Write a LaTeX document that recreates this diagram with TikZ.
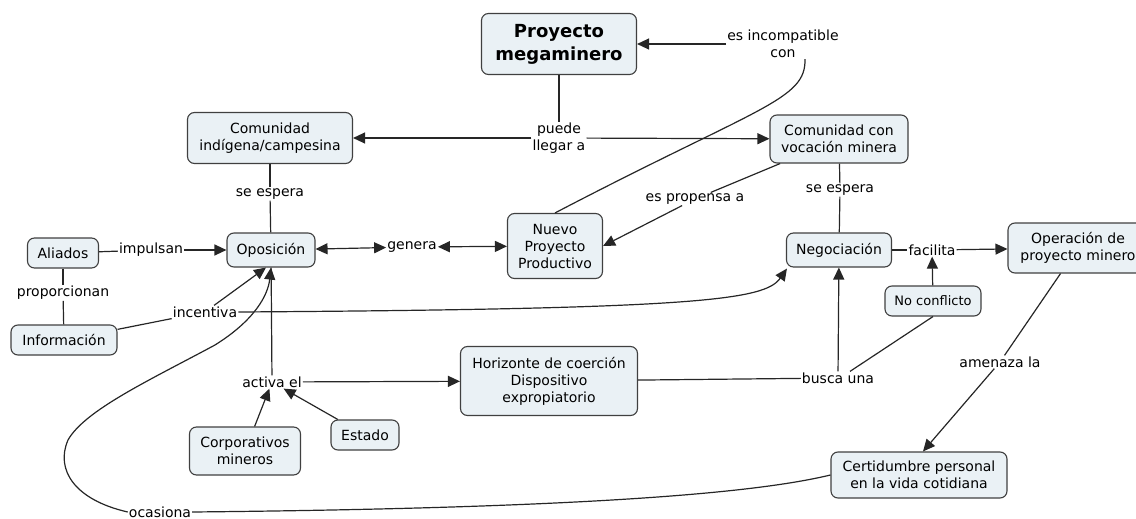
\documentclass[tikz,border=0pt]{standalone}
\usepackage{fontspec}
\setmainfont{DejaVu Sans}
\usetikzlibrary{arrows.meta}

\definecolor{conceptfill}{RGB}{234,241,245}

\tikzstyle{concept} = [draw, rectangle, rounded corners=7pt, line width=1.1pt,
                       align=center, inner sep=2pt,
                       font=\fontsize{14}{17}\selectfont]
\tikzstyle{phrase} = [align=center, inner sep=1pt,
                      font=\fontsize{14}{17}\selectfont]
\tikzstyle{link} = [line width=1.2pt]
\tikzstyle{arrow} = [link, -{Triangle[length=12pt,width=11pt]}]
\tikzstyle{biarrow} = [link, {Triangle[length=12pt,width=11pt]}-{Triangle[length=12pt,width=11pt]}]

\begin{document}
\begin{tikzpicture}[x=1pt, y=-1pt]

\def\colB{black!75};
\def\fillB{conceptfill};
\def\colL{black!85};

\useasboundingbox (0,0) rectangle (1136,519);

\node at (559,44) [concept,draw=\colB,fill=\fillB,
                   font=\bfseries\fontsize{18}{23}\selectfont,
                   minimum width=155pt,minimum height=61pt]
                   (PM) {Proyecto\\megaminero};

\node at (783,44) [phrase] (incomp) {es incompatible\\con};

\node at (559,138) [phrase] (puede) {puede\\llegar a};

\node at (270,138) [concept,draw=\colB,fill=\fillB,
                    minimum width=165pt,minimum height=51pt]
                    (CI) {Comunidad\\indígena/campesina};

\node at (839,139) [concept,draw=\colB,fill=\fillB,
                    minimum width=138pt,minimum height=48pt]
                    (CV) {Comunidad con\\vocación minera};

\node at (270,194) [phrase] (seL) {se espera};
\node at (840,190) [phrase] (seR) {se espera};

\node at (271,250) [concept,draw=\colB,fill=\fillB,
                    minimum width=88pt,minimum height=34pt]
                    (Opos) {Oposición};

\node at (839,250) [concept,draw=\colB,fill=\fillB,
                    minimum width=105pt,minimum height=34pt]
                    (Neg) {Negociación};

\node at (63,253) [concept,draw=\colB,fill=\fillB,
                   minimum width=71pt,minimum height=30pt]
                   (Ali) {Aliados};

\node at (151,250) [phrase] (imp) {impulsan};
\node at (63,293) [phrase] (prop) {proporcionan};

\node at (64,340) [concept,draw=\colB,fill=\fillB,
                   minimum width=106pt,minimum height=30pt]
                   (Info) {Información};

\node at (205,312) [phrase] (incent) {incentiva};
\node at (412,247) [phrase] (gen) {genera};

\node at (555,246) [concept,draw=\colB,fill=\fillB,
                    minimum width=95pt,minimum height=65pt]
                    (NPP) {Nuevo\\Proyecto\\Productivo};

\node at (695,199) [phrase] (propensa) {es propensa a};
\node at (932,250) [phrase] (fac) {facilita};

\node at (1078,248) [concept,draw=\colB,fill=\fillB,
                     minimum width=140pt,minimum height=50pt]
                     (Op) {Operación de\\proyecto minero};

\node at (933,301) [concept,draw=\colB,fill=\fillB,
                    font=\fontsize{13}{16}\selectfont,
                    minimum width=96pt,minimum height=30pt]
                    (NoC) {No conflicto};

\node at (838,378) [phrase] (busca) {busca una};

\node at (549,381) [concept,draw=\colB,fill=\fillB,
                    minimum width=177pt,minimum height=69pt]
                    (Hor) {Horizonte de coerción\\Dispositivo\\expropiatorio};

\node at (272,382) [phrase] (activa) {activa el};

\node at (245,451) [concept,draw=\colB,fill=\fillB,
                    minimum width=111pt,minimum height=48pt]
                    (Corp) {Corporativos\\mineros};

\node at (365,435) [concept,draw=\colB,fill=\fillB,
                    minimum width=68pt,minimum height=30pt]
                    (Est) {Estado};

\node at (919,475) [concept,draw=\colB,fill=\fillB,
                    minimum width=176pt,minimum height=46pt]
                    (Cert) {Certidumbre personal\\en la vida cotidiana};

\node at (1000,362) [phrase] (amen) {amenaza la};
\node at (160,512) [phrase] (ocas) {ocasiona};

\draw[arrow,\colL] (incomp) -- (PM);
\draw[link,\colL] (NPP.north) .. controls (760,106) and (806,100)
      .. ([xshift=22pt]incomp.south);

\draw[link,\colL] (PM) -- (puede);
\draw[arrow,\colL] (puede) -- (CI);
\draw[arrow,\colL] (puede) -- (CV);

\draw[link,\colL] (CI) -- (seL);
\draw[link,\colL] (seL) -- (Opos);
\draw[link,\colL] (CV) -- (seR);
\draw[link,\colL] (seR) -- (Neg);

\draw[link,\colL] (Ali) -- (imp);
\draw[arrow,\colL] (imp) -- (Opos);
\draw[link,\colL] (Ali) -- (prop);
\draw[link,\colL] (prop) -- (Info);

\draw[link,\colL] (Info) -- (incent);
\draw[arrow,\colL] (incent) -- ([xshift=-5pt]Opos.south);
\draw[arrow,\colL] (incent.east) .. controls (700,309) and (765,300)
      .. ([xshift=1pt,yshift=-1pt]Neg.south west);

\draw[biarrow,\colL] (Opos) -- (gen);
\draw[biarrow,\colL] (gen) -- (NPP);

\draw[link,\colL] (CV) -- (propensa);
\draw[arrow,\colL] (propensa) -- (NPP.east);

\draw[link,\colL] (Neg) -- (fac);
\draw[arrow,\colL] (fac) -- (Op);
\draw[arrow,\colL] (NoC) -- (fac);

\draw[link,\colL] (Hor) -- (busca);
\draw[arrow,\colL] (busca) -- (Neg);
\draw[link,\colL] ([xshift=12pt]busca.north) -- (NoC.south);

\draw[link,\colL] (Opos) -- (activa);
\draw[arrow,\colL] (activa) -- (Hor);
\draw[arrow,\colL] (Corp) -- (activa);
\draw[arrow,\colL] (Est) -- (activa);

\draw[link,\colL] (Op) -- (amen);
\draw[arrow,\colL] (amen) -- ([xshift=4pt]Cert.north);

\draw[link,\colL] (Cert.west) .. controls (760,492) and (600,508)
      .. (ocas.east);
\draw[arrow,\colL] (ocas.west) .. controls (75,500) and (55,470)
      .. (68,440) .. controls (85,410) and (150,380)
      .. (215,345) .. controls (255,320) and (268,295)
      .. (Opos.south);

\end{tikzpicture}
\end{document}
